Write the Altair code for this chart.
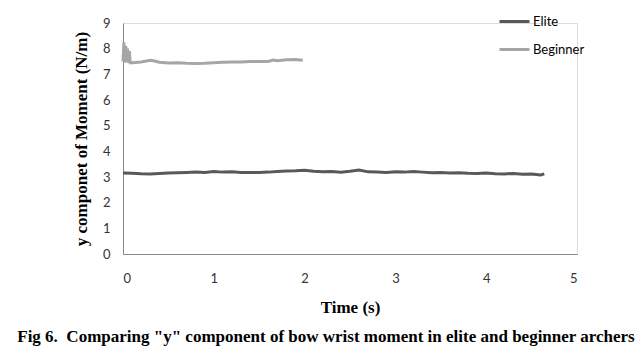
import altair as alt
import pandas as pd

elite_t = [round(0.1 * i, 2) for i in range(47)] + [4.64]
elite_v = [3.16, 3.15, 3.13, 3.12, 3.14, 3.16, 3.17, 3.18, 3.19, 3.18,
           3.21, 3.19, 3.20, 3.18, 3.18, 3.18, 3.19, 3.21, 3.23, 3.24,
           3.26, 3.22, 3.20, 3.21, 3.19, 3.22, 3.27, 3.20, 3.19, 3.18,
           3.20, 3.19, 3.21, 3.19, 3.17, 3.18, 3.16, 3.17, 3.15, 3.14,
           3.16, 3.13, 3.12, 3.14, 3.11, 3.12, 3.08, 3.12]

beg_t = [0, 0.01, 0.02, 0.03, 0.04, 0.05, 0.06, 0.07, 0.08, 0.1, 0.2, 0.3, 0.35,
         0.4, 0.5, 0.6, 0.7, 0.8, 0.9, 1.0, 1.1, 1.2, 1.3, 1.4, 1.5, 1.6, 1.65,
         1.7, 1.8, 1.9, 1.98]
beg_v = [7.5, 8.25, 7.45, 8.1, 7.5, 8.0, 7.45, 7.9, 7.45, 7.45, 7.48, 7.55, 7.52,
         7.47, 7.44, 7.45, 7.43, 7.42, 7.43, 7.45, 7.47, 7.48, 7.48, 7.50, 7.50,
         7.50, 7.56, 7.53, 7.57, 7.58, 7.55]

series = ["Elite", "Beginner"]
colors = ["#595959", "#a6a6a6"]

rows = []
for i, (t, v) in enumerate(zip(elite_t, elite_v)):
    rows.append({"t": t, "v": v, "s": "Elite", "o": i})
for i, (t, v) in enumerate(zip(beg_t, beg_v)):
    rows.append({"t": t, "v": v, "s": "Beginner", "o": i})
df = pd.DataFrame(rows)

chart = alt.Chart(df).mark_line(strokeWidth=3).encode(
    x=alt.X("t:Q", scale=alt.Scale(domain=[0, 5], nice=False),
            axis=alt.Axis(values=[0, 1, 2, 3, 4, 5], title="Time (s)", grid=False,
                          ticks=False, domainColor="#888888", labelColor="#333333",
                          labelFont="Lato", labelFontSize=13, labelPadding=18,
                          titleFont="Liberation Serif", titleFontWeight="bold",
                          titleFontSize=17, titlePadding=14, titleColor="#000000")),
    y=alt.Y("v:Q", scale=alt.Scale(domain=[0, 9], nice=False),
            axis=alt.Axis(values=list(range(10)), title="y componet of Moment (N/m)",
                          grid=False, ticks=False, domainColor="#888888",
                          labelColor="#333333", labelFont="Lato", labelFontSize=13,
                          labelPadding=13, titleFont="Liberation Serif",
                          titleFontWeight="bold", titleFontSize=17, titlePadding=12,
                          titleColor="#000000")),
    color=alt.Color("s:N", scale=alt.Scale(domain=series, range=colors),
                    legend=alt.Legend(title=None, orient="none", legendX=375, legendY=-18,
                                      symbolType="stroke", symbolSize=900,
                                      symbolStrokeWidth=3, labelFont="Lato",
                                      labelFontSize=13, labelColor="#000000",
                                      rowPadding=4, labelOffset=2)),
    order="o:Q",
    detail="s:N",
).properties(
    width=454, height=231,
    title=alt.TitleParams(
        'Fig 6.\u00a0 Comparing "y" component of bow wrist moment in elite and beginner archers',
        orient="bottom", font="Liberation Serif", fontWeight="bold", fontSize=17,
        anchor="middle", dx=-24, offset=14, color="#000000"),
    autosize=alt.AutoSizeParams(type="none"),
    padding={"left": 123, "top": 23, "right": 67, "bottom": 110},
).configure_view(stroke=None).configure(background="white")

chart.save("out.html", embed_options={"renderer": "svg", "actions": False})
